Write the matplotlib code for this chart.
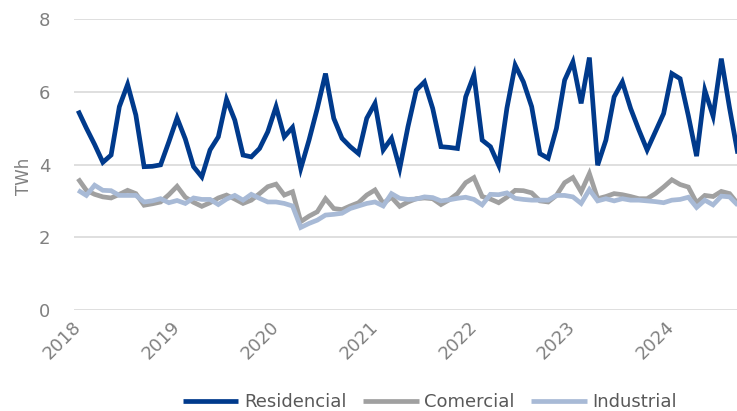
"""Consumo mensual de energía por sector (TWh)."""

import matplotlib

matplotlib.use("Agg")
import matplotlib.pyplot as plt
import numpy as np

YEARS = ["2018", "2019", "2020", "2021", "2022", "2023", "2024"]
SERIES_NAMES = ["Residencial", "Comercial", "Industrial"]

# monthly values, Jan 2018 .. Sep 2024
residencial = [
    5.48, 5.00, 4.55, 4.06, 4.26, 5.59, 6.20, 5.36, 3.94, 3.95, 3.99, 4.62,
    5.28, 4.70, 3.94, 3.66, 4.40, 4.76, 5.79, 5.22, 4.26, 4.21, 4.44, 4.90,
    5.59, 4.76, 5.02, 3.89, 4.67, 5.54, 6.50, 5.27, 4.72, 4.49, 4.30, 5.27,
    5.68, 4.40, 4.72, 3.89, 5.04, 6.04, 6.27, 5.54, 4.49, 4.47, 4.44, 5.86,
    6.46, 4.67, 4.49, 3.98, 5.55, 6.73, 6.27, 5.59, 4.30, 4.17, 4.99, 6.32,
    6.82, 5.68, 6.94, 3.98, 4.67, 5.86, 6.27, 5.54, 4.95, 4.40, 4.90, 5.40,
    6.50, 6.36, 5.34, 4.23, 6.04, 5.33, 6.91, 5.55, 4.30,
]
comercial = [
    3.61, 3.29, 3.18, 3.11, 3.08, 3.18, 3.29, 3.20, 2.88, 2.92, 2.97, 3.17,
    3.40, 3.10, 2.96, 2.85, 2.95, 3.08, 3.16, 3.05, 2.93, 3.02, 3.20, 3.39,
    3.46, 3.16, 3.25, 2.43, 2.58, 2.70, 3.06, 2.79, 2.76, 2.86, 2.95, 3.16,
    3.30, 2.93, 3.10, 2.85, 2.97, 3.06, 3.08, 3.06, 2.90, 3.03, 3.20, 3.50,
    3.64, 3.12, 3.05, 2.95, 3.10, 3.29, 3.28, 3.22, 3.00, 2.97, 3.15, 3.50,
    3.64, 3.25, 3.75, 3.06, 3.12, 3.20, 3.17, 3.12, 3.06, 3.06, 3.20, 3.38,
    3.58, 3.45, 3.38, 2.95, 3.15, 3.12, 3.26, 3.20, 2.92,
]
industrial = [
    3.29, 3.15, 3.43, 3.29, 3.28, 3.15, 3.15, 3.15, 2.97, 3.00, 3.06, 2.95,
    3.01, 2.93, 3.08, 3.04, 3.04, 2.90, 3.05, 3.15, 3.02, 3.18, 3.07, 2.97,
    2.97, 2.93, 2.86, 2.27, 2.38, 2.47, 2.61, 2.63, 2.66, 2.79, 2.86, 2.93,
    2.97, 2.86, 3.20, 3.07, 3.04, 3.05, 3.11, 3.09, 3.00, 3.03, 3.07, 3.10,
    3.04, 2.89, 3.18, 3.17, 3.22, 3.07, 3.04, 3.02, 3.02, 3.02, 3.15, 3.15,
    3.11, 2.93, 3.31, 3.00, 3.06, 3.00, 3.06, 3.02, 3.02, 3.00, 2.98, 2.95,
    3.02, 3.04, 3.10, 2.82, 3.02, 2.89, 3.13, 3.11, 2.88,
]

COLORS = ["#003A8C", "#A0A0A0", "#A8BAD6"]
TEXT_GREY = "#808080"

fig = plt.figure(figsize=(7.37, 4.11), dpi=100)
ax = fig.add_axes([0.1004, 0.2457, 0.8996, 0.7081])

months = np.arange(len(residencial))
for values, name, color in zip([residencial, comercial, industrial], SERIES_NAMES, COLORS):
    ax.plot(months, values, color=color, lw=3.4, label=name,
            solid_joinstyle="miter", solid_capstyle="butt")

ax.set_xlim(-0.5, 79.9)
ax.set_ylim(0, 8)
ax.set_yticks([0, 2, 4, 6, 8])
ax.set_xticks(np.arange(len(YEARS)) * 12)
ax.set_xticklabels(YEARS, rotation=45, ha="right", va="center",
                   rotation_mode="anchor")
ax.tick_params(axis="both", length=0, labelsize=13, colors=TEXT_GREY)
ax.tick_params(axis="x", pad=10)
ax.tick_params(axis="y", pad=17)
ax.grid(axis="y", color="#D9D9D9", lw=1.2)
ax.set_axisbelow(True)
for side in ax.spines:
    ax.spines[side].set_visible(False)

ax.set_ylabel("TWh", color=TEXT_GREY, fontsize=12)
ax.yaxis.set_label_coords(-0.062, 0.46)

fig.legend(loc="center", bbox_to_anchor=(0.583, 0.022), ncol=3, frameon=False,
           fontsize=13, handlelength=3.1, handletextpad=0.3, columnspacing=0.9,
           labelcolor="#595959")

fig.savefig("out.png", dpi=100)
